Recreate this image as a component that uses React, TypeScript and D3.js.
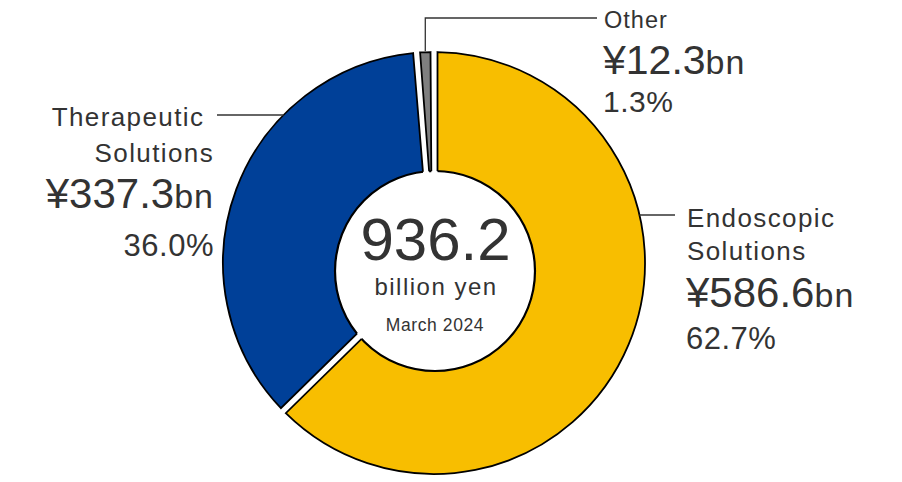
import React, { useEffect } from "react";
import * as d3 from "d3";

const categories = ["Endoscopic Solutions", "Therapeutic Solutions", "Other"];
const values = [586.6, 337.3, 12.3];
const amountLabels = ["¥586.6", "¥337.3", "¥12.3"];
const percentLabels = ["62.7%", "36.0%", "1.3%"];
const totalLabel = "936.2";
const unitLabel = "billion yen";
const dateLabel = "March 2024";
const colors = ["#F8BE00", "#004098", "#7F7F7F"];

const W = 902;
const H = 482;
const cx = 434;
const cy = 263;
const R = 211;
const hole = { x: 435, y: 271, r: 100 };
const FONT = "'Liberation Sans', Arial, Helvetica, sans-serif";
const TXT = "#333333";

export default function App() {
  useEffect(() => {
    document.body.style.margin = "0";
  }, []);

  const pie = d3.pie<number>().sort(null).value((d) => d)(values);
  const gap = 7;
  const arc = d3
    .arc<d3.PieArcDatum<number>>()
    .innerRadius(60)
    .outerRadius(R)
    .padRadius(R)
    .padAngle(gap / R);

  // helper: x on outer arc at given y (left/right side)
  const xOnArc = (y: number, side: number) => cx + side * Math.sqrt(R * R - (y - cy) * (y - cy));

  // "Other" leader: mid angle of its slice
  const oMid = (pie[2].startAngle + pie[2].endAngle) / 2;
  const oX = cx + R * Math.sin(oMid);
  const oY = cy - R * Math.cos(oMid);

  const thY = 115;
  const enY = 215;
  const otY = 18;

  const nameStyle = { fontSize: 26, letterSpacing: 1.4 };

  return (
    <svg width={W} height={H} style={{ display: "block" }} fontFamily={FONT}>
      <defs>
        <clipPath id="slicesClip">
          {pie.map((d, i) => (
            <path key={i} d={arc(d) || ""} transform={`translate(${cx},${cy})`} />
          ))}
        </clipPath>
      </defs>
      <g transform={`translate(${cx},${cy})`}>
        {pie.map((d, i) => (
          <path key={i} d={arc(d) || ""} fill={colors[i]} stroke="#000" strokeWidth={1.8} strokeLinejoin="miter" />
        ))}
      </g>
      <circle cx={hole.x} cy={hole.y} r={hole.r} fill="#fff" />
      <circle cx={hole.x} cy={hole.y} r={hole.r} fill="none" stroke="#000" strokeWidth={2.2} clipPath="url(#slicesClip)" />

      {/* leader lines */}
      <g stroke="#333" strokeWidth={1.3} fill="none">
        <line x1={217} y1={thY} x2={xOnArc(thY, -1)} y2={thY} />
        <line x1={xOnArc(enY, 1)} y1={enY} x2={675} y2={enY} />
        <polyline points={`${oX},${oY - 1} ${oX},${otY} ${597},${otY}`} />
      </g>

      {/* Therapeutic label */}
      <g fill={TXT} textAnchor="end">
        <text x={204.4} y={126} style={nameStyle}>Therapeutic</text>
        <text x={214.1} y={162} style={nameStyle}>Solutions</text>
        <text x={214} y={208}>
          <tspan fontSize={42}>{amountLabels[1]}</tspan>
          <tspan fontSize={34} letterSpacing={1}>bn</tspan>
        </text>
        <text x={214} y={256} fontSize={31} letterSpacing={0.5}>{percentLabels[1]}</text>
      </g>

      {/* Endoscopic label */}
      <g fill={TXT} textAnchor="start">
        <text x={687} y={227} style={nameStyle}>Endoscopic</text>
        <text x={687} y={260} style={nameStyle}>Solutions</text>
        <text x={686} y={307}>
          <tspan fontSize={42}>{amountLabels[0]}</tspan>
          <tspan fontSize={34} letterSpacing={1}>bn</tspan>
        </text>
        <text x={686} y={349} fontSize={31} letterSpacing={0.5}>{percentLabels[0]}</text>
      </g>

      {/* Other label */}
      <g fill={TXT} textAnchor="start">
        <text x={604} y={28} fontSize={23.5} letterSpacing={1}>{categories[2]}</text>
        <text x={603} y={74}>
          <tspan fontSize={41}>{amountLabels[2]}</tspan>
          <tspan fontSize={34} letterSpacing={1}>bn</tspan>
        </text>
        <text x={603} y={112} fontSize={30} letterSpacing={0.5}>{percentLabels[2]}</text>
      </g>

      {/* center */}
      <g fill={TXT} textAnchor="middle">
        <text x={435.5} y={260} fontSize={60}>{totalLabel}</text>
        <text x={436} y={295} fontSize={24} letterSpacing={1.5}>{unitLabel}</text>
        <text x={435} y={331} fontSize={17.5} letterSpacing={0.6}>{dateLabel}</text>
      </g>
    </svg>
  );
}
